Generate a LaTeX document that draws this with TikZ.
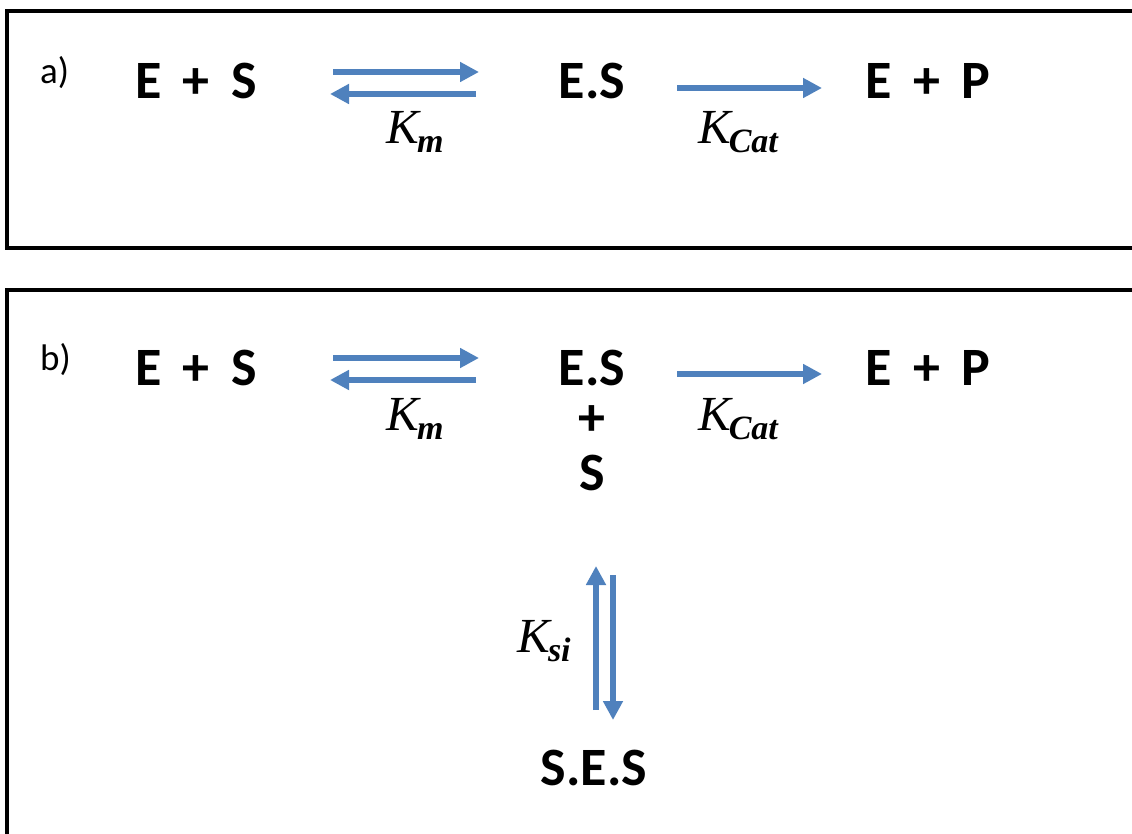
\documentclass[tikz,border=0pt]{standalone}
\usepackage{fontspec}
\setmainfont{Carlito}
\newfontfamily\timesfont{Liberation Serif}
\usetikzlibrary{arrows.meta}
\definecolor{arrowblue}{RGB}{79,129,189}
\newcommand{\ratek}[1]{{\timesfont\itshape K\kern-2pt\raisebox{-9pt}{\fontsize{34}{40}\selectfont\bfseries\itshape #1}}}
\tikzset{
  species/.style={font=\fontsize{54}{64}\selectfont\bfseries, inner sep=0pt, anchor=base},
  tag/.style={font=\fontsize{37}{44}\selectfont, inner sep=0pt, anchor=base west},
  rate/.style={font=\fontsize{49}{58}\selectfont, inner sep=0pt, anchor=base},
  panel/.style={draw=black, line width=4pt},
  flow/.style={draw=arrowblue, line width=6pt, -{Triangle[length=19pt,width=19pt]}},
}
\begin{document}
\begin{tikzpicture}[x=1pt,y=-1pt]
\useasboundingbox (0,0) rectangle (1132,834);
\clip (0,0) rectangle (1132,834);

% panel a: Michaelis-Menten scheme
\draw[panel] (7,11) rectangle (1150,248);
\node[tag] (taga) at (40,84) {a)};
\node[species] (esa) at (196,99) {E\,~+~\,S};
\node[species] (complexa) at (592,99) {E.S};
\node[species] (epa) at (928,99) {E\,~+~\,P};
\coordinate (fa1) at (333,72);  \coordinate (fa2) at (479,72);
\coordinate (ba1) at (476,94);  \coordinate (ba2) at (330,94);
\coordinate (ca1) at (677,88);  \coordinate (ca2) at (822,88);
\draw[flow] (fa1) -- (fa2);
\draw[flow] (ba1) -- (ba2);
\draw[flow] (ca1) -- (ca2);
\node[rate] (kma) at (415,144) {\ratek{m}};
\node[rate] (kcata) at (738,144) {\ratek{Cat}};

% panel b: scheme with substrate inhibition
\draw[panel] (7,290) rectangle (1150,850);
\node[tag] (tagb) at (40,370) {b)};
\node[species] (esb) at (196,385) {E\,~+~\,S};
\node[species] (complexb) at (592,385) {E.S};
\node[species] (epb) at (928,385) {E\,~+~\,P};
\coordinate (fb1) at (333,358);  \coordinate (fb2) at (479,358);
\coordinate (bb1) at (476,380);  \coordinate (bb2) at (330,380);
\coordinate (cb1) at (677,374);  \coordinate (cb2) at (822,374);
\draw[flow] (fb1) -- (fb2);
\draw[flow] (bb1) -- (bb2);
\draw[flow] (cb1) -- (cb2);
\node[rate] (kmb) at (415,430) {\ratek{m}};
\node[rate] (kcatb) at (738,430) {\ratek{Cat}};
\node[species, anchor=center] (plus) at (592,421) {+};
\node[species] (subs) at (592,490) {S};
\coordinate (up1) at (596,710);  \coordinate (up2) at (596,566);
\coordinate (dn1) at (613,575);  \coordinate (dn2) at (613,720);
\draw[flow] (up1) -- (up2);
\draw[flow] (dn1) -- (dn2);
\node[rate] (ksi) at (544,652) {\ratek{si}};
\node[species] (ses) at (594,785) {S.E.S};
\end{tikzpicture}
\end{document}
